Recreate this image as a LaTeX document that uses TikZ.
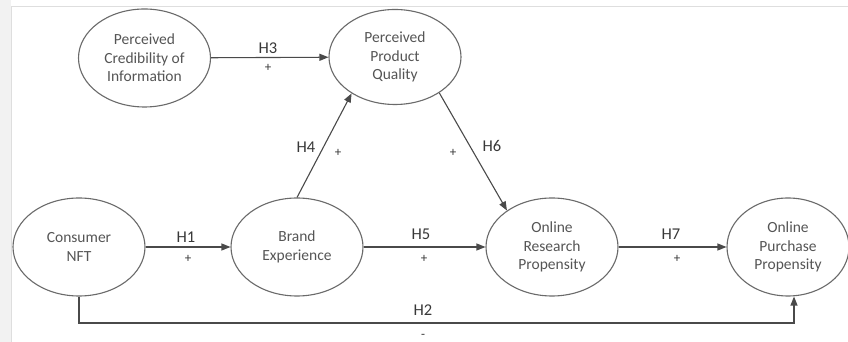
\documentclass[tikz,border=0pt]{standalone}
\usepackage{fontspec}
\setmainfont{Carlito}
\usetikzlibrary{arrows.meta,shapes.geometric}
\definecolor{txt}{HTML}{555555}
\definecolor{lbl}{HTML}{383838}
\definecolor{edge}{HTML}{4A4A4A}
\definecolor{rim}{HTML}{6A6A6A}
\tikzset{
  construct/.style={ellipse, draw=rim, line width=1.1pt, text=txt,
    minimum width=132pt, minimum height=98pt, inner sep=0pt,
    align=center, font=\fontsize{15.5}{18.5}\selectfont},
  link/.style={draw=edge, line width=1.1pt, -{Triangle[length=9pt,width=7pt]}},
  hyp/.style={text=lbl, font=\fontsize{16.5}{19}\selectfont, inner sep=0pt},
  sign/.style={text=lbl, font=\fontsize{13}{15}\selectfont, inner sep=0pt},
}
\begin{document}
\begin{tikzpicture}[x=1pt,y=1pt]
  % page frame
  \useasboundingbox (0,0) rectangle (848,342);
  \fill[white] (0,0) rectangle (848,342);
  \fill[black!5] (0,0) rectangle (11,342);
  \draw[black!13, line width=1pt] (11.5,0) -- (11.5,335) -- (848,335);

  % constructs
  \node[construct] (pci) at (144.5,284) {Perceived\\Credibility of\\Information};
  \node[construct, minimum height=95pt] (ppq) at (395,285) {Perceived\\Product\\Quality};
  \node[construct] (nft) at (79,95) {Consumer\\NFT};
  \node[construct] (be) at (297,95) {Brand\\Experience};
  \node[construct] (orp) at (552,95) {Online\\Research\\Propensity};
  \node[construct, minimum width=122pt] (opp) at (788,95) {Online\\Purchase\\Propensity};

  % paths
  \draw[link] (pci) -- (ppq);
  \draw[link] (nft) -- (be);
  \draw[link] (be) -- (orp);
  \draw[link] (orp) -- (opp);
  \draw[link] (be.90) -- (ppq.220);
  \draw[link] (ppq.321) -- (orp.141);
  \coordinate (h2turn) at (79,19);
  \draw[link] (nft.south) -- (h2turn) -| ([xshift=6pt]opp.south);

  % hypothesis labels
  \node[hyp] (l3) at (268,294) {H3};
  \node[sign] (s3) at (268,274) {+};
  \node[hyp] (l1) at (186,105) {H1};
  \node[sign] (s1) at (188,83) {+};
  \node[hyp] (l5) at (421,108) {H5};
  \node[sign] (s5) at (424,83) {+};
  \node[hyp] (l7) at (671,108) {H7};
  \node[sign] (s7) at (677,83) {+};
  \node[hyp] (l4) at (306,195) {H4};
  \node[sign] (s4) at (338,189) {+};
  \node[hyp] (l6) at (492,196) {H6};
  \node[sign] (s6) at (453,189) {+};
  \node[hyp] (l2) at (423,32) {H2};
  \node[sign] (s2) at (423,6) {-};
\end{tikzpicture}
\end{document}
